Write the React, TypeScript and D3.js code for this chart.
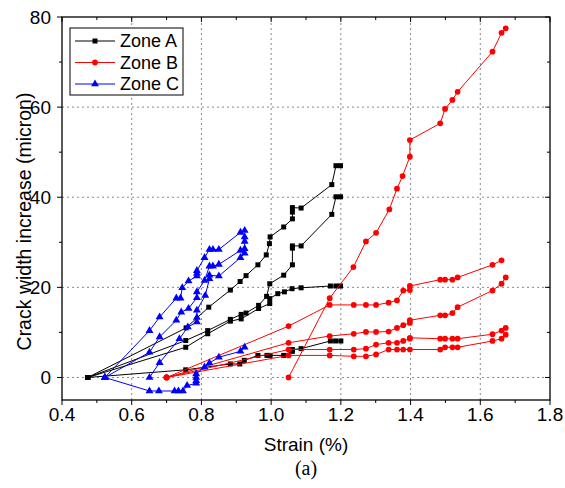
import React from 'react';
import * as d3 from 'd3';

type P = [number, number];

const xTickValues = [0.4, 0.6, 0.8, 1.0, 1.2, 1.4, 1.6, 1.8];
const xMinorValues = [0.5, 0.7, 0.9, 1.1, 1.3, 1.5, 1.7];
const yTickValues = [0, 20, 40, 60, 80];
const yMinorValues = [10, 30, 50, 70];
const xGridValues = [0.6, 0.8, 1.0, 1.2, 1.4, 1.6];
const yGridValues = [0, 20, 40, 60];

// Zone A (black squares)
const zoneA1: P[] = [[0.474,0],[0.756,11],[0.821,15.6],[0.883,19.4],[0.911,21.3],[0.928,22.6],[0.962,25],[0.986,27.2],[0.995,29.7],[0.997,31.2],[1.036,33.4],[1.061,35.2],[1.061,36.7],[1.061,37.7],[1.086,37.6],[1.174,42.8],[1.186,47],[1.199,47]];
const zoneA2: P[] = [[0.474,0],[0.755,8.2],[0.818,10.4],[0.883,12.9],[0.914,14],[0.928,14.3],[0.964,16],[0.987,18],[0.996,20.8],[1.036,22.7],[1.061,25],[1.061,28.7],[1.061,29.2],[1.086,29.2],[1.174,36.2],[1.186,40.1],[1.199,40.1]];
const zoneA3: P[] = [[0.474,0],[0.755,6.7],[0.818,9.7],[0.883,12.5],[0.914,13],[0.964,15.3],[0.996,16.4],[0.996,17.5],[1.019,18.6],[1.038,19],[1.06,19.7],[1.086,19.9],[1.17,20.3],[1.186,20.3],[1.199,20.3]];
const zoneA4: P[] = [[0.474,0],[0.755,1.7],[0.883,3],[0.91,3],[0.923,3.8],[0.962,4.9],[0.988,4.9],[0.997,4.9],[1.036,4.9],[1.061,5.8],[1.061,6.2],[1.086,6.4],[1.17,8.1],[1.185,8.1],[1.2,8.1]];

// Zone B (red circles)
const zoneB1: P[] = [[1.05,0],[1.168,17.6],[1.236,24.5],[1.272,30.2],[1.301,32.1],[1.339,37.3],[1.361,41.9],[1.377,44.7],[1.398,49],[1.398,52.7],[1.485,56.4],[1.499,59.6],[1.52,61.6],[1.535,63.4],[1.635,72.3],[1.661,76.5],[1.673,77.5]];
const zoneB2: P[] = [[0.7,0],[1.05,11.4],[1.168,16.1],[1.237,16.1],[1.272,16.1],[1.301,16.1],[1.337,16.6],[1.361,17.1],[1.379,19.3],[1.398,19.4],[1.398,20.3],[1.485,21.7],[1.499,21.7],[1.52,21.7],[1.535,22.2],[1.635,25],[1.661,26]];
const zoneB3: P[] = [[0.7,0],[1.05,7.7],[1.168,9.2],[1.237,9.7],[1.272,10.1],[1.301,10.1],[1.337,10.2],[1.361,11],[1.379,11.6],[1.398,12.1],[1.398,12.7],[1.485,13.8],[1.499,13.8],[1.52,14.3],[1.535,15.6],[1.635,19.3],[1.661,20.8],[1.673,22.2]];
const zoneB4: P[] = [[0.7,0],[1.05,6.2],[1.168,6.2],[1.237,6.2],[1.272,6.4],[1.301,7.3],[1.337,7.7],[1.361,7.7],[1.379,8.1],[1.398,8.6],[1.398,8.8],[1.485,8.6],[1.499,8.6],[1.52,8.6],[1.535,8.6],[1.635,9.6],[1.661,10.4],[1.673,11]];
const zoneB5: P[] = [[0.7,0],[1.05,4.9],[1.168,4.9],[1.237,4.7],[1.272,4.7],[1.301,5.1],[1.337,6.2],[1.361,6.2],[1.379,6.2],[1.398,6.2],[1.485,6.2],[1.499,6.7],[1.52,6.7],[1.535,6.7],[1.635,8.1],[1.661,8.6],[1.673,9.5]];

// Zone C (blue triangles)
const zoneC1: P[] = [[0.523,0],[0.651,10.4],[0.68,13.4],[0.728,17.6],[0.74,17.6],[0.745,19.9],[0.763,21.4],[0.787,22.5],[0.787,23.1],[0.787,23.7],[0.809,26.6],[0.823,28.4],[0.833,28.4],[0.85,28.4],[0.912,32.2],[0.924,32.6]];
const zoneC2: P[] = [[0.523,0],[0.651,5.6],[0.68,9],[0.728,12.7],[0.742,14.5],[0.763,15.3],[0.787,17.7],[0.787,19],[0.809,21.5],[0.823,24.7],[0.833,24.7],[0.85,25.1],[0.912,28.2],[0.924,28.6],[0.924,30.2],[0.924,31.2]];
const zoneC3: P[] = [[0.651,0],[0.68,3.3],[0.737,8.6],[0.761,11.2],[0.787,12.3],[0.787,13.3],[0.787,14.9],[0.811,18.2],[0.823,21.9],[0.823,22.7],[0.85,22.5],[0.912,26.6],[0.924,27.6]];
const zoneC4: P[] = [[0.523,0],[0.651,-3],[0.678,-3],[0.723,-3],[0.734,-3],[0.747,-3],[0.759,-1.8],[0.785,-1.3],[0.785,-0.7],[0.785,0],[0.785,0.8],[0.809,2.3],[0.823,3.2],[0.85,4.5],[0.912,5.8],[0.924,6.7]];

const legendNames = ['Zone A', 'Zone B', 'Zone C'];
const zoneColors = ['#000000', '#ff0000', '#0000ff'];

const W = 565;
const H = 488;
const FONT = '"Liberation Sans", Arial, sans-serif';

export default function App() {
  const x = d3.scaleLinear().domain([0.4, 1.8]).range([62, 550]);
  const y = d3.scaleLinear().domain([-5, 80]).range([400, 17]);
  const [x0, x1] = x.range();
  const [yb, yt] = y.range();

  const line = d3.line<P>().x(d => x(d[0])).y(d => y(d[1]));
  const symSquare = d3.symbol().type(d3.symbolSquare).size(25)()!;
  const symCircle = d3.symbol().type(d3.symbolCircle).size(26)()!;
  const symTri = d3.symbol().type(d3.symbolTriangle).size(27)()!;
  const symbols = [symSquare, symCircle, symTri];

  const groups: { data: P[][]; color: string; sym: string }[] = [
    { data: [zoneA1, zoneA2, zoneA3, zoneA4], color: zoneColors[0], sym: symSquare },
    { data: [zoneB1, zoneB2, zoneB3, zoneB4, zoneB5], color: zoneColors[1], sym: symCircle },
    { data: [zoneC1, zoneC2, zoneC3, zoneC4], color: zoneColors[2], sym: symTri },
  ];

  const fmtX = d3.format('.1f');

  return (
    <svg width={W} height={H} style={{ position: 'absolute', left: 0, top: 0, background: '#fff' }} fontFamily={FONT}>
      <rect x={0} y={0} width={W} height={H} fill="#fff" />
      {/* grid */}
      {xGridValues.map(v => (
        <line key={'gx' + v} x1={x(v)} x2={x(v)} y1={yb} y2={yt} stroke="#888" strokeWidth={1} strokeDasharray="2,3" />
      ))}
      {yGridValues.map(v => (
        <line key={'gy' + v} x1={x0} x2={x1} y1={y(v)} y2={y(v)} stroke="#888" strokeWidth={1} strokeDasharray="2,3" />
      ))}
      {/* series */}
      {groups.map((g, gi) => (
        <g key={'g' + gi}>
          {g.data.map((s, si) => (
            <g key={'s' + si}>
              <path d={line(s)!} fill="none" stroke={g.color} strokeWidth={1} />
              {s.map((p, pi) => (
                <path key={pi} d={g.sym} transform={`translate(${x(p[0])},${y(p[1])})`} fill={g.color} />
              ))}
            </g>
          ))}
        </g>
      ))}
      {/* frame */}
      <rect x={x0} y={yt} width={x1 - x0} height={yb - yt} fill="none" stroke="#000" strokeWidth={1.3} />
      {/* x ticks bottom (out) and top (in) */}
      {xTickValues.map(v => (
        <g key={'xt' + v}>
          <line x1={x(v)} x2={x(v)} y1={yb} y2={yb + 5} stroke="#000" />
          <line x1={x(v)} x2={x(v)} y1={yt} y2={yt + 5} stroke="#000" />
          <text x={x(v)} y={yb + 21} textAnchor="middle" fontSize={19}>{fmtX(v)}</text>
        </g>
      ))}
      {xMinorValues.map(v => (
        <g key={'xm' + v}>
          <line x1={x(v)} x2={x(v)} y1={yb} y2={yb + 3} stroke="#000" />
          <line x1={x(v)} x2={x(v)} y1={yt} y2={yt + 3} stroke="#000" />
        </g>
      ))}
      {yTickValues.map(v => (
        <g key={'yt' + v}>
          <line x1={x0 - 5} x2={x0} y1={y(v)} y2={y(v)} stroke="#000" />
          <line x1={x1 - 5} x2={x1} y1={y(v)} y2={y(v)} stroke="#000" />
          <text x={x0 - 11} y={y(v)} dy="0.35em" textAnchor="end" fontSize={19}>{v}</text>
        </g>
      ))}
      {yMinorValues.map(v => (
        <g key={'ym' + v}>
          <line x1={x0 - 3} x2={x0} y1={y(v)} y2={y(v)} stroke="#000" />
          <line x1={x1 - 3} x2={x1} y1={y(v)} y2={y(v)} stroke="#000" />
        </g>
      ))}
      {/* axis titles */}
      <text x={(x0 + x1) / 2} y={451} textAnchor="middle" fontSize={19}>Strain (%)</text>
      <text transform={`translate(31,${(yb + yt) / 2 + 13}) rotate(-90)`} textAnchor="middle" fontSize={19.5}>Crack width increase (micron)</text>
      <text x={(x0 + x1) / 2} y={475} textAnchor="middle" fontSize={20} fontFamily='"Liberation Serif", "Times New Roman", serif'>(a)</text>
      {/* legend */}
      <g>
        <rect x={70} y={28} width={113} height={67} fill="#fff" stroke="#000" strokeWidth={1} />
        {legendNames.map((n, i) => {
          const ly = 41 + i * 21.5;
          return (
            <g key={n}>
              <line x1={75} x2={115} y1={ly} y2={ly} stroke={zoneColors[i]} strokeWidth={1} />
              <path d={symbols[i]} transform={`translate(95,${ly})`} fill={zoneColors[i]} />
              <text x={120} y={ly} dy="0.35em" fontSize={18}>{n}</text>
            </g>
          );
        })}
      </g>
    </svg>
  );
}
